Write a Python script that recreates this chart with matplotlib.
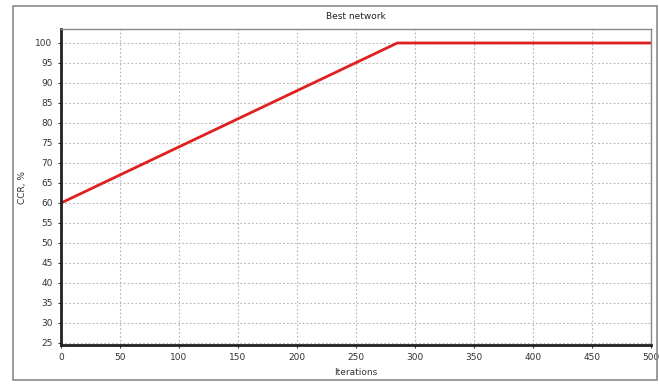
import matplotlib.pyplot as plt
from matplotlib.patches import Rectangle

# dados
iteracoes = [0, 285, 500]
ccr = [60, 100, 100]
xticks = list(range(0, 501, 50))
yticks = list(range(25, 101, 5))

fig = plt.figure(figsize=(6.59, 3.87), dpi=100)
W, H = 659., 387.

# moldura externa
fig.patches.append(Rectangle((13 / W, 1 - 380 / H), (657 - 13) / W, (380 - 6) / H,
                             transform=fig.transFigure, fill=False,
                             edgecolor='#8a8a8a', linewidth=1.2))

ax = fig.add_axes([61 / W, 1 - 345 / H, 590 / W, (345 - 29) / H])
ax.plot(iteracoes, ccr, color='#e02020', linewidth=2)

ax.set_xlim(0, 500)
ax.set_ylim(24.5, 103.5)
ax.set_xticks(xticks)
ax.set_yticks(yticks)
ax.grid(True, color='#b4b4b4', linestyle=(0, (1.5, 2)), linewidth=0.8)
ax.tick_params(axis='both', labelsize=6.5, colors='#333333', length=2, pad=4)

for s in ['left', 'bottom']:
    ax.spines[s].set_linewidth(2)
    ax.spines[s].set_color('#222222')
for s in ['top', 'right']:
    ax.spines[s].set_linewidth(1)
    ax.spines[s].set_color('#888888')

ax.set_title('Best network', fontsize=6.5, pad=7, color='#222222')
ax.set_xlabel('Iterations', fontsize=6.5, labelpad=4, color='#333333')
ax.set_ylabel('CCR, %', fontsize=6.5, labelpad=6, color='#333333')

fig.savefig('out.png', dpi=100)
